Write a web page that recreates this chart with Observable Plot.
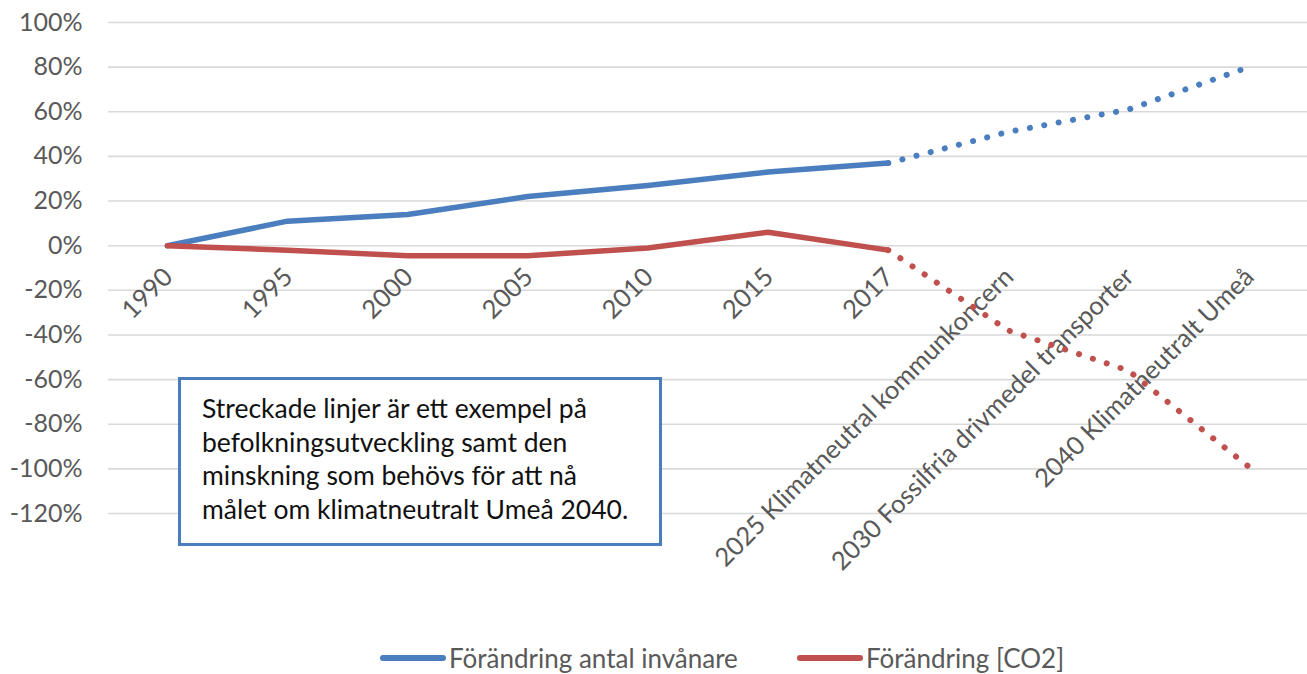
<!DOCTYPE html>
<html>
<head>
<meta charset="utf-8">
<script src="https://cdn.jsdelivr.net/npm/d3@7"></script>
<script src="https://cdn.jsdelivr.net/npm/@observablehq/plot@0.6"></script>
<style>
  html, body { margin: 0; padding: 0; background: #fff; }
  #wrap { position: relative; width: 1307px; height: 674px; font-family: Lato, "Open Sans", sans-serif; overflow: hidden; }
  #chart svg { display: block; }
  #note { position: absolute; left: 178px; top: 377px; width: 478px; height: 163px; border: 3px solid #4a7dbd; background: #fff; }
  #note div { position: absolute; left: 21px; top: 12px; font-size: 26.5px; line-height: 33.5px; color: #111; white-space: nowrap; }
  .leg { position: absolute; top: 644px; height: 28px; line-height: 28px; display: flex; align-items: center; font-size: 26px; color: #595959; white-space: nowrap; }
  .sw { display: inline-block; width: 66px; height: 6px; border-radius: 3px; margin-right: 3px; }
</style>
</head>
<body>
<div id="wrap">
  <div id="chart"></div>
  <div id="note"><div>Streckade linjer är ett exempel på<br>befolkningsutveckling samt den<br>minskning som behövs för att nå<br>målet om klimatneutralt Umeå 2040.</div></div>
</div>
<script>
const categories = ["1990","1995","2000","2005","2010","2015","2017",
  "2025 Klimatneutral kommunkoncern","2030 Fossilfria drivmedel transporter","2040 Klimatneutralt Umeå"];
const invanare = [0, 11, 14, 22, 27, 33, 37, 51, 61, 80];
const co2 = [0, -2, -4.5, -4.5, -1, 6, -2, -38, -56, -99];
const lastObserved = 6; // index of 2017, after which lines are projections
const yTicks = [-120, -100, -80, -60, -40, -20, 0, 20, 40, 60, 80, 100];
const seriesNames = ["Förändring antal invånare", "Förändring [CO2]"];
const seriesColors = ["#4a7ebf", "#c0504d"];
const legendLeft = [380, 797];

const rows = [];
[invanare, co2].forEach((vals, s) => {
  vals.forEach((v, i) => {
    if (i <= lastObserved) rows.push({cat: categories[i], value: v, series: seriesNames[s], part: "solid"});
    if (i >= lastObserved) rows.push({cat: categories[i], value: v, series: seriesNames[s], part: "dotted"});
  });
});

const chart = Plot.plot({
  width: 1307,
  height: 630,
  marginLeft: 108,
  marginRight: 0,
  marginTop: 22,
  marginBottom: 117,
  style: {fontFamily: "Lato, 'Open Sans', sans-serif", color: "#595959", background: "#fff"},
  x: {type: "point", domain: categories, padding: 0.49, round: false, axis: null},
  y: {domain: [-120, 100], axis: null},
  color: {domain: seriesNames, range: seriesColors},
  marks: [
    Plot.ruleY(yTicks, {stroke: "#d9d9d9", strokeWidth: 1.6}),
    Plot.axisY({ticks: yTicks, label: null, tickSize: 0, tickPadding: 26, tickFormat: d => d + "%", fontSize: 25, fill: "#595959"}),
    Plot.text(categories, {x: d => d, y: () => 0, text: d => d, rotate: -45, textAnchor: "end",
      lineAnchor: "middle", dx: 1, dy: 27, fontSize: 25.5, fill: "#595959"}),
    Plot.line(rows.filter(r => r.part === "solid"), {x: "cat", y: "value", z: "series", stroke: "series",
      strokeWidth: 5.5, strokeLinecap: "round", strokeLinejoin: "round"}),
    Plot.line(rows.filter(r => r.part === "dotted"), {x: "cat", y: "value", z: "series", stroke: "series",
      strokeWidth: 6, strokeLinecap: "round", strokeDasharray: "0.1 14.5"})
  ]
});
document.getElementById("chart").appendChild(chart);

const wrap = document.getElementById("wrap");
seriesNames.forEach((name, i) => {
  const item = document.createElement("div");
  item.className = "leg";
  item.style.left = legendLeft[i] + "px";
  const sw = document.createElement("span");
  sw.className = "sw";
  sw.style.background = seriesColors[i];
  item.appendChild(sw);
  item.appendChild(document.createTextNode(name));
  wrap.appendChild(item);
});
</script>
</body>
</html>
